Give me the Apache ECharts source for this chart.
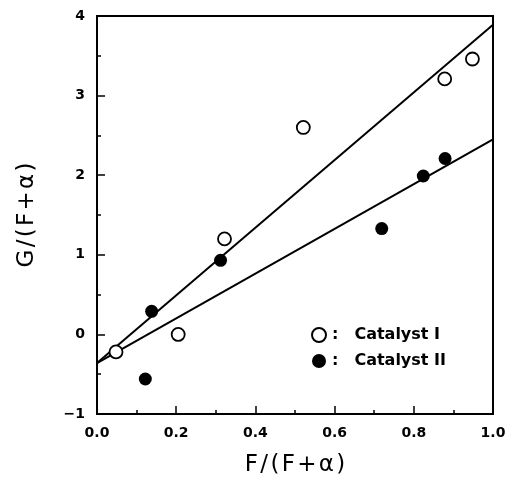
<!DOCTYPE html>
<html>
<head>
<meta charset="utf-8">
<script src="https://cdn.jsdelivr.net/npm/echarts@6/dist/echarts.min.js"></script>
<style>html,body{margin:0;padding:0;background:#fff}#c{width:516px;height:480px}</style>
</head>
<body>
<div id="c"></div>
<script>
// Catalyst I (open circles)
var cat1X = [0.048, 0.205, 0.322, 0.521, 0.878, 0.948];
var cat1Y = [-0.22, 0.0, 1.20, 2.60, 3.21, 3.46];
// Catalyst II (filled circles)
var cat2X = [0.122, 0.138, 0.312, 0.719, 0.824, 0.879];
var cat2Y = [-0.56, 0.29, 0.93, 1.33, 1.99, 2.21];
// Fit lines (endpoints at x = 0 and x = 1)
var fitX = [0, 1];
var fit1Y = [-0.36, 3.89];
var fit2Y = [-0.36, 2.45];
// axis ticks
var xTicks = [0, 0.2, 0.4, 0.6, 0.8, 1.0];
var yTicks = [-1, 0, 1, 2, 3, 4];

function zip(a, b) { return a.map(function (v, i) { return [v, b[i]]; }); }
var HS = '\u200A';
function spaced(s) { return s.split('').join(HS); }

var FONT = 'DejaVu Sans';
var chart = echarts.init(document.getElementById('c'), null, {renderer: 'canvas'});
chart.setOption({
  animation: false,
  backgroundColor: '#fff',
  grid: {left: 97, top: 16, right: 23, bottom: 66, show: true, borderColor: '#000', borderWidth: 2,
    containLabel: false, outerBoundsMode: 'none'},
  legend: {
    data: ['Catalyst I', 'Catalyst II'],
    orient: 'vertical',
    left: 306, top: 322,
    itemWidth: 14, itemHeight: 14, itemGap: 10,
    icon: 'circle',
    formatter: function (n) { return '{a|:}{b|' + n + '}'; },
    textStyle: {
      rich: {
        a: {fontFamily: FONT, fontWeight: 'bold', fontSize: 16, color: '#000', padding: [0, 0, 0, 1]},
        b: {fontFamily: FONT, fontWeight: 'bold', fontSize: 16, color: '#000', padding: [0, 0, 0, 16]}
      }
    }
  },
  xAxis: {
    type: 'value', min: 0, max: 1, interval: 0.2,
    name: spaced('F/(F+\u03B1)'), nameLocation: 'middle', nameGap: 40,
    nameTextStyle: {fontFamily: FONT, fontSize: 23, color: '#000'},
    axisLine: {show: true, onZero: false, lineStyle: {color: '#000', width: 2}},
    axisTick: {show: true, inside: true, length: 8, lineStyle: {color: '#000', width: 1.5}},
    minorTick: {show: true, splitNumber: 2, length: 4, lineStyle: {color: '#000', width: 1.5}},
    axisLabel: {fontFamily: FONT, fontWeight: 'bold', fontSize: 14, color: '#000', margin: 12,
      formatter: function (v) { return v.toFixed(1); }},
    splitLine: {show: false}
  },
  yAxis: {
    type: 'value', min: -1, max: 4, interval: 1,
    name: spaced('G/(F+\u03B1)'), nameLocation: 'middle', nameGap: 58, nameRotate: 90,
    nameTextStyle: {fontFamily: FONT, fontSize: 23, color: '#000'},
    axisLine: {show: true, onZero: false, lineStyle: {color: '#000', width: 2}},
    axisTick: {show: true, inside: true, length: 8, lineStyle: {color: '#000', width: 1.5}},
    minorTick: {show: true, splitNumber: 2, length: 4, lineStyle: {color: '#000', width: 1.5}},
    axisLabel: {fontFamily: FONT, fontWeight: 'bold', fontSize: 14, color: '#000', margin: 12,
      formatter: function (v) { return v < 0 ? '\u2212' + Math.abs(v) : String(v); }},
    splitLine: {show: false}
  },
  series: [
    {type: 'line', data: zip(fitX, fit1Y), symbol: 'none', lineStyle: {color: '#000', width: 2}, silent: true, z: 1},
    {type: 'line', data: zip(fitX, fit2Y), symbol: 'none', lineStyle: {color: '#000', width: 2}, silent: true, z: 1},
    {name: 'Catalyst I', type: 'scatter', data: zip(cat1X, cat1Y), symbol: 'circle', symbolSize: 13,
      itemStyle: {color: '#fff', borderColor: '#000', borderWidth: 1.8, opacity: 1}, z: 3},
    {name: 'Catalyst II', type: 'scatter', data: zip(cat2X, cat2Y), symbol: 'circle', symbolSize: 13,
      itemStyle: {color: '#000', borderColor: '#000', borderWidth: 0, opacity: 1}, z: 3}
  ]
});
</script>
</body>
</html>
